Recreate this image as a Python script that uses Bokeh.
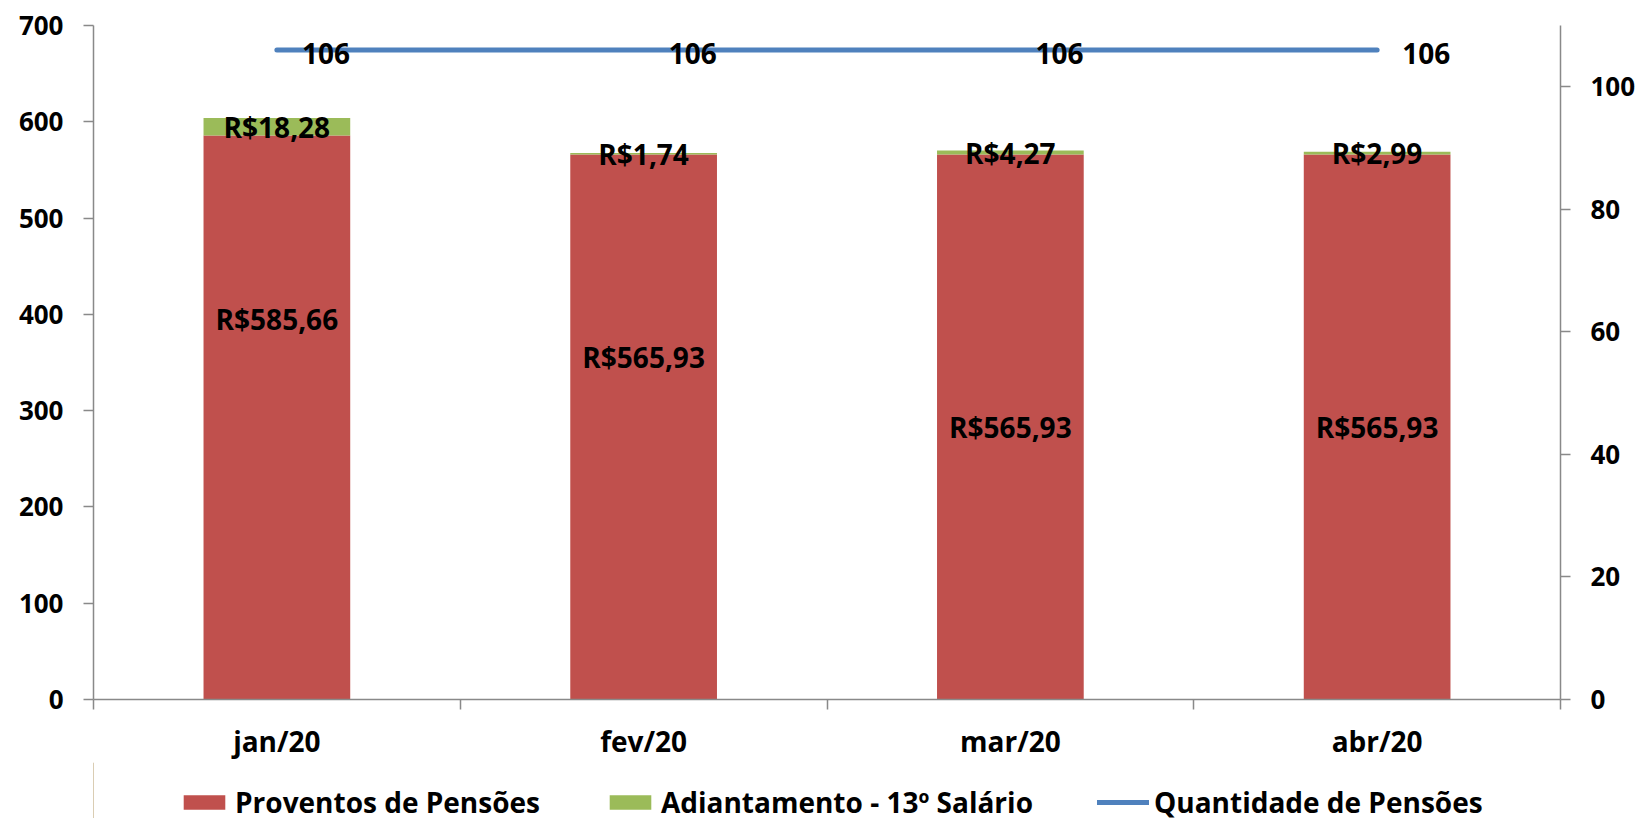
from bokeh.plotting import figure
from bokeh.layouts import column
from bokeh.models import (Range1d, LinearAxis, FixedTicker, Legend, LegendItem, ColumnDataSource)
from bokeh.core.properties import value
from bokeh.embed import file_html
from bokeh.resources import INLINE

# ---- data ----
categories = ["jan/20", "fev/20", "mar/20", "abr/20"]
proventos = [585.66, 565.93, 565.93, 565.93]
adiantamento = [18.28, 1.74, 4.27, 2.99]
quantidade = [106, 106, 106, 106]
left_ticks = [0, 100, 200, 300, 400, 500, 600, 700]
right_ticks = [0, 20, 40, 60, 80, 100]
series_names = ["Proventos de Pensões", "Adiantamento - 13º Salário", "Quantidade de Pensões"]

# label placement within red bars (fraction of bar height)
label_frac = [0.675, 0.628, 0.5, 0.5]

FONT = "Open Sans"
RED = "#C0504D"
GREEN = "#9BBB59"
BLUE = "#4F81BD"
AXIS = "#898989"

n = len(categories)
xs = [i + 0.5 for i in range(n)]
tops = [a + b for a, b in zip(proventos, adiantamento)]

def brl(v):
    return "R$" + f"{v:.2f}".replace(".", ",")

src = ColumnDataSource(dict(
    x=xs, prov=proventos, top=tops, qtd=quantidade,
    prov_lbl=[brl(v) for v in proventos],
    adi_lbl=[brl(v) for v in adiantamento],
    prov_y=[v * f for v, f in zip(proventos, label_frac)],
    adi_y=[(a + t) / 2 for a, t in zip(proventos, tops)],
    qtd_lbl=[str(q) for q in quantidade],
))

p = figure(frame_width=1467, frame_height=674, output_backend="svg", toolbar_location=None,
           x_range=Range1d(0, n), y_range=Range1d(0, 700),
           min_border_left=93, min_border_right=84, min_border_top=25, min_border_bottom=0)
p.extra_y_ranges = {"right": Range1d(0, 110)}
p.outline_line_color = None
p.xgrid.visible = False
p.ygrid.visible = False
p.background_fill_color = "white"
p.border_fill_color = "white"

p.vbar(x="x", top="prov", bottom=0, width=0.4, source=src, fill_color=RED, line_color=None)
p.vbar(x="x", top="top", bottom="prov", width=0.4, source=src, fill_color=GREEN, line_color=None)
p.line(x="x", y="qtd", source=src, y_range_name="right",
       line_color=BLUE, line_width=5, line_cap="round")

lbl_kw = dict(text_font=value(FONT), text_font_style="bold", text_font_size="28px",
              text_color="black")
p.text(x="x", y="prov_y", text="prov_lbl", source=src, text_align="center",
       text_baseline="middle", **lbl_kw)
p.text(x="x", y="adi_y", text="adi_lbl", source=src, text_align="center",
       text_baseline="middle", **lbl_kw)
p.text(x="x", y="qtd", text="qtd_lbl", source=src, y_range_name="right",
       text_align="left", text_baseline="middle", x_offset=25, y_offset=3, **lbl_kw)

def style_axis(ax, size="26px"):
    ax.axis_line_color = AXIS
    ax.axis_line_width = 1.5
    ax.major_tick_line_color = AXIS
    ax.major_tick_line_width = 1.5
    ax.minor_tick_line_color = AXIS
    ax.minor_tick_line_width = 1.5
    ax.major_label_text_font = FONT
    ax.major_label_text_font_style = "bold"
    ax.major_label_text_font_size = size
    ax.major_label_text_color = "black"

# x axis
xa = p.xaxis[0]
xa.ticker = FixedTicker(ticks=xs, minor_ticks=list(range(n + 1)))
xa.major_label_overrides = {x: c for x, c in zip(xs, categories)}
style_axis(xa, "28px")
xa.major_tick_out = 0
xa.major_tick_in = 0
xa.minor_tick_out = 10
xa.minor_tick_in = 0
xa.major_label_standoff = 12

# left y axis
ya = p.yaxis[0]
ya.ticker = FixedTicker(ticks=left_ticks)
style_axis(ya)
ya.major_tick_out = 10
ya.major_tick_in = 0
ya.minor_tick_out = 0
ya.minor_tick_in = 0
ya.major_label_standoff = 20

# right y axis
ra = LinearAxis(y_range_name="right", ticker=FixedTicker(ticks=right_ticks))
style_axis(ra)
ra.major_tick_out = 10
ra.major_tick_in = 0
ra.minor_tick_out = 0
ra.minor_tick_in = 0
ra.major_label_standoff = 20
p.add_layout(ra, "right")

# ---- legend strip (separate small figure below the chart) ----
lg = figure(width=1644, height=59, output_backend="svg", toolbar_location=None,
            x_range=Range1d(0, 1), y_range=Range1d(0, 1),
            x_axis_location=None, y_axis_location=None, min_border=0)
lg.outline_line_color = None
lg.xgrid.visible = False
lg.ygrid.visible = False
lg.background_fill_color = "white"
lg.border_fill_color = "white"
lg.background_fill_alpha = 0
lg.border_fill_alpha = 0
# legend keys only: placed outside the strip's visible range
k_prov = lg.vbar(x=[-10], top=[1], width=0.4, fill_color=RED, line_color=None)
k_adi = lg.vbar(x=[-10], top=[1], width=0.4, fill_color=GREEN, line_color=None)
k_line = lg.line(x=[-10, -9], y=[0, 0], line_color=BLUE, line_width=5, line_cap="round")

legend = Legend(items=[LegendItem(label=s, renderers=[r]) for s, r in
                       zip(series_names, [k_prov, k_adi, k_line])],
                orientation="horizontal", location=(85, 0))
legend.label_text_font = FONT
legend.label_text_font_style = "bold"
legend.label_text_font_size = "28px"
legend.label_text_color = "black"
legend.glyph_width = 52
legend.glyph_height = 18
legend.label_standoff = 5
legend.spacing = 64
legend.padding = 0
legend.margin = 0
legend.border_line_color = None
legend.background_fill_alpha = 0
lg.add_layout(legend, "center")

layout = column(p, lg, spacing=0)
open("out.html", "w").write(file_html(layout, INLINE))
